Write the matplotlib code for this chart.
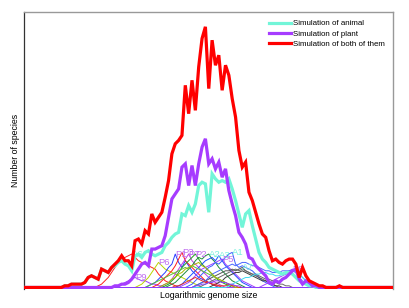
import numpy as np
import matplotlib
matplotlib.use("Agg")
import matplotlib.pyplot as plt

plt.rcParams['font.family'] = ['Liberation Sans', 'DejaVu Sans']

# bins of logarithmic genome size
bins = np.arange(111)

animal = [0]*12 + [1, 1, 2, 2, 2, 2, 3, 6, 7, 6, 5, 11, 10, 9, 12, 13, 15, 16, 14, 13, 10,
                   19, 20, 18, 21, 22, 20, 19, 20, 21, 25, 27, 30, 32, 33, 44, 43, 49, 45, 50,
                   61, 63, 62, 45, 68, 65, 63, 64, 63, 65, 59, 52, 44, 36, 44, 46, 37, 29, 21,
                   17, 15, 12, 11, 10, 9, 8, 9, 9, 8, 6, 4, 3, 2, 1, 1] + [0]*24

plant = [0]*27 + [1, 1, 2, 2, 3, 5, 8, 11, 14, 15, 13, 23, 23, 24, 25, 31, 42, 53, 56, 59,
                  72, 74, 61, 73, 61, 74, 84, 89, 74, 77, 71, 75, 66, 71, 58, 50, 43, 33, 30,
                  26, 18, 17, 13, 11, 9, 7, 3, 2, 4, 3, 5, 6, 8, 10, 11, 5, 2, 4, 3, 1, 1] + [0]*23

both = [0]*12 + [1, 1, 2, 2, 2, 2, 3, 6, 7, 6, 5, 11, 10, 9, 12, 14, 16, 19, 16, 16, 13,
                 28, 29, 26, 34, 32, 44, 39, 42, 45, 54, 64, 80, 86, 88, 91, 121, 104, 124, 106,
                 132, 149, 156, 119, 148, 133, 139, 118, 133, 127, 113, 102, 82, 72, 75, 57, 52,
                 45, 38, 32, 30, 22, 16, 17, 15, 14, 16, 17, 17, 14, 6, 12, 7, 4, 3, 2, 1, 1,
                 0, 0, 0, 0, 1] + [0]*16

# individual simulated genomes: label, start bin, counts
sub_labels = ['A6', 'P9', 'P6', 'P1', 'P3', 'P7', 'P2', 'A2', 'A3', 'P5', 'A1', 'A7', 'P8',
              '', '', '', '', '', '', '', '']
sub_starts = [22, 27, 33, 36, 38, 40, 41, 42, 45, 46, 48, 50, 70,
              50, 52, 55, 36, 40, 60, 44, 50]
sub_values = [
    [1, 2, 4, 6, 9, 12, 15, 17, 18, 19, 20, 18, 16, 15, 14, 13, 12, 11, 8, 6, 4, 3, 2, 1, 0],
    [0, 1, 2, 3, 4, 5, 6, 5, 4, 4, 3, 2, 2, 1, 1, 0],
    [0, 1, 2, 4, 6, 9, 12, 15, 13, 11, 10, 9, 8, 7, 6, 5, 4, 3, 2, 1, 0],
    [0, 1, 2, 3, 5, 7, 9, 12, 14, 20, 15, 12, 16, 13, 10, 8, 6, 5, 4, 3, 2, 1, 0],
    [0, 1, 2, 4, 6, 8, 10, 13, 17, 21, 16, 14, 12, 10, 8, 6, 4, 3, 2, 1, 1, 0],
    [0, 1, 2, 3, 5, 8, 11, 14, 17, 20, 16, 14, 12, 10, 8, 6, 4, 3, 2, 1, 0],
    [0, 1, 2, 4, 6, 9, 12, 14, 16, 18, 20, 17, 14, 12, 10, 8, 6, 4, 3, 2, 1, 0],
    [0, 1, 2, 3, 5, 7, 9, 11, 13, 16, 18, 17, 19, 20, 17, 15, 12, 10, 8, 6, 4, 3, 2, 1, 0],
    [0, 1, 2, 4, 6, 8, 10, 12, 14, 16, 17, 18, 16, 19, 16, 13, 11, 9, 7, 5, 3, 2, 1, 0],
    [0, 1, 2, 3, 5, 7, 9, 11, 12, 13, 14, 15, 16, 17, 14, 12, 10, 8, 6, 4, 3, 2, 1, 0],
    [0, 1, 2, 4, 6, 8, 10, 12, 13, 15, 14, 16, 18, 20, 21, 14, 12, 13, 12, 11, 10, 8, 6, 4, 3, 2, 1, 0],
    [0, 1, 2, 3, 4, 5, 6, 7, 8, 9, 10, 10, 11, 10, 11, 12, 10, 9, 8, 7, 6, 5, 4, 3, 2, 1, 0],
    [0, 1, 2, 3, 4, 5, 6, 7, 8, 10, 11, 9, 6, 4, 2, 1, 0],
    [0, 1, 2, 3, 4, 6, 8, 9, 10, 11, 12, 13, 14, 13, 14, 15, 15, 14, 13, 13, 12, 11, 10, 10, 9,
     9, 9, 10, 10, 10, 10, 9, 8, 6, 4, 2, 1, 0],
    [0, 1, 2, 3, 4, 5, 6, 7, 8, 9, 10, 11, 10, 11, 10, 9, 8, 8, 7, 6, 5, 5, 4, 3, 2, 2, 1, 1, 0],
    [0, 1, 2, 3, 4, 6, 7, 8, 9, 9, 10, 9, 8, 7, 6, 5, 4, 4, 3, 2, 1, 1, 0],
    [0, 1, 2, 3, 4, 5, 6, 7, 8, 9, 10, 11, 12, 11, 13, 12, 11, 10, 9, 8, 7, 6, 5, 4, 3, 2, 1, 0],
    [0, 1, 2, 3, 5, 6, 8, 9, 11, 12, 13, 14, 15, 13, 12, 10, 8, 6, 5, 4, 3, 2, 1, 0],
    [0, 1, 2, 3, 4, 5, 6, 6, 7, 8, 8, 9, 9, 8, 8, 7, 7, 8, 8, 9, 10, 9, 8, 6, 4, 2, 1, 0],
    [0, 1, 1, 2, 3, 4, 5, 6, 5, 4, 3, 3, 2, 2, 1, 1, 1, 2, 1, 1, 0],
    [0, 1, 1, 2, 2, 3, 3, 4, 4, 3, 3, 2, 2, 1, 1, 0],
]
sub_colors = ['#ff2020', '#9a3cff', '#b8d400', '#2a3cff', '#ff1a1a', '#c040e0', '#22a022',
              '#1e8c3c', '#2050ff', '#a040ff', '#3a5cff', '#555555', '#a040ff',
              '#4a66ff', '#6a6a6a', '#3c3c3c', '#5cc03c', '#a8b800', '#40d8f0', '#e03030',
              '#8840ff']

series_labels = ['Simulation of animal', 'Simulation of plant', 'Simulation of both of them']
series_colors = ['#72f5d8', '#a63cff', '#ff0000']

fig = plt.figure(figsize=(4.09, 3.08), dpi=100)
ax = fig.add_axes([0.0599, 0.0617, 0.901, 0.899])

for lab, st, vals, col in zip(sub_labels, sub_starts, sub_values, sub_colors):
    y = np.zeros(len(bins))
    y[st:st + len(vals)] = vals
    ax.plot(bins, y, color=col, lw=0.7, zorder=2)
    if lab:
        k = int(np.argmax(y))
        tcol = '#c070f0' if lab.startswith('P') else '#78f0dc'
        ax.text(bins[k], y[k], lab, color=tcol, fontsize=6.8, ha='left', va='center', zorder=3)

for vals, col, lab in zip([animal, plant, both], series_colors, series_labels):
    ax.plot(bins, vals, color=col, lw=2.3, label=lab, zorder=4, solid_joinstyle='miter')

ax.set_xlim(0, 110)
ax.set_ylim(-0.9, 164.8)
ax.set_xticks([])
ax.set_yticks([])
ax.spines['bottom'].set_visible(False)
ax.spines['left'].set_color('#333333')
ax.spines['left'].set_linewidth(0.9)
for s in ['top', 'right']:
    ax.spines[s].set_color('#999999')
    ax.spines[s].set_linewidth(1.0)

ax.set_xlabel('Logarithmic genome size', fontsize=6.3, labelpad=1.5)
ax.set_ylabel('Number of species', fontsize=6.3, labelpad=3.5)

ax.legend(loc='upper left', bbox_to_anchor=(0.663, 0.972), frameon=False, fontsize=5.7,
          handlelength=2.8, handletextpad=0.3, labelspacing=0.35, borderpad=0,
          borderaxespad=0)

fig.savefig('out.png', dpi=100)
